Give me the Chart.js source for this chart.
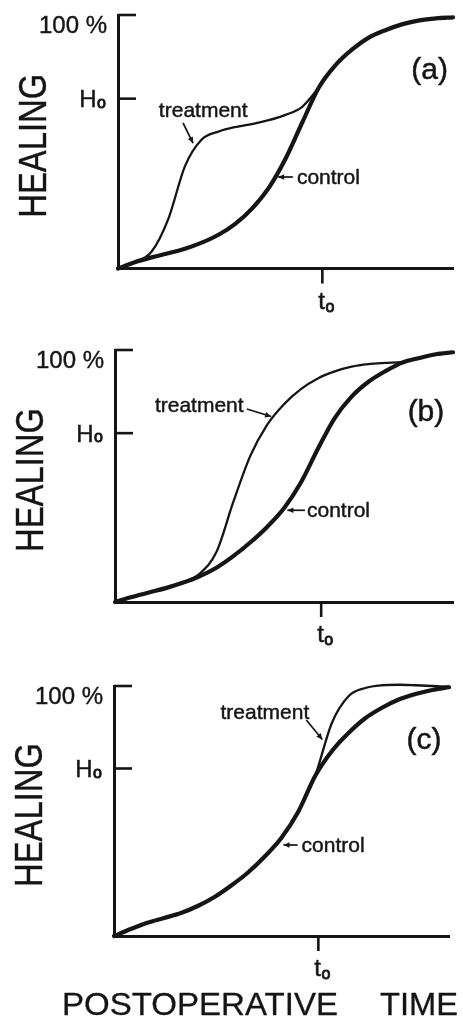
<!DOCTYPE html>
<html>
<head>
<meta charset="utf-8">
<script src="https://cdn.jsdelivr.net/npm/chart.js@4.4.0/dist/chart.umd.min.js"></script>
<style>
  html, body { margin: 0; padding: 0; background: #ffffff; }
  #wrap { position: relative; width: 463px; height: 1029px; overflow: hidden; background: #ffffff; }
  canvas { position: absolute; left: 0; }
</style>
</head>
<body>
<div id="wrap">
  <canvas id="pa" width="463" height="330" style="top:0px"></canvas>
  <canvas id="pb" width="463" height="330" style="top:330px"></canvas>
  <canvas id="pc" width="463" height="369" style="top:660px"></canvas>
</div>
<script>
// ---------------- data (postoperative time in % of axis, healing in %) ----------------
const timePoints = [0, 5, 10, 15, 20, 25, 30, 35, 40, 45, 50, 55, 60, 65, 70, 75, 80, 85, 90, 95, 100];

const controlA   = [0, 2.5, 4.4, 6.0, 7.8, 10.2, 13.3, 17.6, 23.6, 31.8, 43.3, 57.6, 71.5, 80.3, 86.5, 91.2, 94.1, 96.4, 97.9, 98.7, 99.1];
const treatmentA = [0, 2.5, 6.6, 19.5, 40.4, 50.9, 54, 55.8, 57, 58.5, 60.6, 63.8, 71.5, 80.3, 86.5, 91.2, 94.1, 96.4, 97.9, 98.7, 99.1];

const controlB   = [0, 2, 3.8, 5.5, 7.6, 10.2, 13.6, 18.2, 23.6, 29.8, 37.2, 47.4, 60.7, 73, 81.5, 87.4, 91.6, 95, 96.8, 98.3, 99.1];
const treatmentB = [0, 2, 3.8, 5.5, 7.8, 11.2, 19.8, 39.7, 57.9, 70.3, 78.5, 84.5, 88.7, 91.5, 93.4, 94.4, 94.9, 95.3, 96.8, 98.3, 99.1];

const controlC   = [0, 2.8, 5.3, 7.2, 9.2, 12, 15.6, 20.2, 25.4, 31.8, 39.3, 49.7, 63.9, 73.9, 81.2, 87.1, 91.3, 94.6, 96.8, 98.4, 99.5];
const treatmentC = [0, 2.8, 5.3, 7.2, 9.2, 12, 15.6, 20.2, 25.4, 31.8, 39.3, 49.7, 63.9, 85.1, 95.9, 99.2, 100.3, 100.5, 100.3, 100, 99.7];

const H0 = 67;          // healing level H0
const T0 = 61;          // time t0
const yTickValues = [H0, 100];
const topLabel = '100 %';
const yTitle = 'HEALING';
const xTitleWords = ['POSTOPERATIVE', 'TIME'];
const seriesNames = ['treatment', 'control'];
const panelLetters = ['(a)', '(b)', '(c)'];

// ---------------- drawing ----------------
const ink = '#151515';
const FONT = '"Liberation Sans", Arial, Helvetica, sans-serif';

function drawArrow(ctx, x1, y1, x2, y2) {
  ctx.lineWidth = 1.7;
  ctx.beginPath(); ctx.moveTo(x1, y1); ctx.lineTo(x2, y2); ctx.stroke();
  const a = Math.atan2(y2 - y1, x2 - x1), L = 6, W = 2.8;
  ctx.beginPath();
  ctx.moveTo(x2, y2);
  ctx.lineTo(x2 - L * Math.cos(a) + W * Math.sin(a), y2 - L * Math.sin(a) - W * Math.cos(a));
  ctx.lineTo(x2 - L * Math.cos(a) - W * Math.sin(a), y2 - L * Math.sin(a) + W * Math.cos(a));
  ctx.closePath(); ctx.fill();
}

// text with a light outline to match the heavier pen lettering
function inkText(ctx, text, x, y, sw) {
  ctx.fillText(text, x, y);
  ctx.lineWidth = sw || 0.6;
  ctx.strokeText(text, x, y);
}

function fitText(ctx, text, x, y, targetW, align, sw) {
  const w = ctx.measureText(text).width;
  const s = targetW / w;
  ctx.save();
  ctx.translate(x, y);
  ctx.scale(s, 1);
  ctx.textAlign = align || 'left';
  inkText(ctx, text, 0, 0, sw);
  ctx.restore();
}

const panelDecor = {
  id: 'panelDecor',
  afterDraw(chart, args, o) {
    const ctx = chart.ctx, X = chart.scales.x, Y = chart.scales.y;
    const x0 = X.getPixelForValue(0), y0 = Y.getPixelForValue(0), yTop = Y.getPixelForValue(100);
    const px = v => X.getPixelForValue(v), py = v => Y.getPixelForValue(v);
    ctx.save();
    ctx.strokeStyle = ink; ctx.fillStyle = ink; ctx.lineCap = 'butt'; ctx.lineJoin = 'round';

    // inward y ticks
    ctx.lineWidth = 2.6;
    yTickValues.forEach(v => { const p = py(v); ctx.beginPath(); ctx.moveTo(x0, p); ctx.lineTo(x0 + 18, p); ctx.stroke(); });
    // outward t0 tick
    const pt = px(T0);
    ctx.beginPath(); ctx.moveTo(pt, y0); ctx.lineTo(pt, y0 + 15); ctx.stroke();

    // y labels
    ctx.textBaseline = 'alphabetic';
    ctx.font = '24px ' + FONT; ctx.textAlign = 'right';
    inkText(ctx, topLabel, x0 - 11, yTop + 17.5, 0.4);
    const ph = py(H0);
    ctx.font = '16px ' + FONT;
    const ow = ctx.measureText('o').width;
    inkText(ctx, 'o', x0 - 12, ph + 9, 0.9);
    ctx.font = '24px ' + FONT;
    inkText(ctx, 'H', x0 - 12 - ow - 0.5, ph + 8.5, 0.4);

    // t0 label
    ctx.textAlign = 'left';
    ctx.font = '24px ' + FONT;
    inkText(ctx, 't', pt - 4, y0 + 40, 0.5);
    const tw = ctx.measureText('t').width;
    ctx.font = '16px ' + FONT;
    inkText(ctx, 'o', pt - 4 + tw + 0.5, y0 + 43, 0.9);

    // y title (rotated)
    ctx.save();
    ctx.font = '38px ' + FONT;
    const cx = x0 - 85.5, cy = (y0 + yTop) / 2 + 4;
    ctx.translate(cx, cy); ctx.rotate(-Math.PI / 2);
    fitText(ctx, yTitle, 0, 0.716 * 38 / 2, 144, 'center', 0.4);
    ctx.restore();

    // panel letter
    ctx.font = '30px ' + FONT; ctx.textAlign = 'center'; ctx.textBaseline = 'middle';
    inkText(ctx, o.letter, px(o.letterAt[0]), py(o.letterAt[1]), 0.5);

    // series annotations
    ctx.textBaseline = 'alphabetic'; ctx.textAlign = 'left';
    ctx.font = '21px ' + FONT;
    const tl = o.treat, cl = o.ctrl;
    inkText(ctx, seriesNames[0], px(tl.text[0]), py(tl.text[1]) + 7, 0.45);
    inkText(ctx, seriesNames[1], px(cl.text[0]), py(cl.text[1]) + 7, 0.45);
    drawArrow(ctx, px(tl.from[0]), py(tl.from[1]), px(tl.to[0]), py(tl.to[1]));
    drawArrow(ctx, px(cl.from[0]), py(cl.from[1]), px(cl.to[0]), py(cl.to[1]));

    // x title (only last panel)
    if (o.xTitle) {
      ctx.font = '31px ' + FONT; ctx.textBaseline = 'alphabetic';
      const base = y0 + 79;
      fitText(ctx, xTitleWords[0], 62, base, 276, 'left', 0.3);
      fitText(ctx, xTitleWords[1], 380, base, 78, 'left', 0.3);
    }
    ctx.restore();
  }
};

function pts(arr) { return timePoints.map((t, i) => ({ x: t, y: arr[i] })); }

function makePanel(id, treatment, control, pad, decor) {
  return new Chart(document.getElementById(id), {
    type: 'line',
    data: {
      datasets: [
        { label: seriesNames[1], data: pts(control), borderColor: ink, borderWidth: 4.2,
          pointRadius: 0, cubicInterpolationMode: 'monotone', fill: false, clip: false, borderCapStyle: 'round' },
        { label: seriesNames[0], data: pts(treatment), borderColor: ink, borderWidth: 2.3,
          pointRadius: 0, cubicInterpolationMode: 'monotone', fill: false, clip: false, borderCapStyle: 'round' }
      ]
    },
    options: {
      responsive: false, animation: false, events: [], devicePixelRatio: 1,
      layout: { padding: pad, autoPadding: false },
      scales: {
        x: { type: 'linear', min: 0, max: 100, afterFit(s) { s.height = 0; },
             ticks: { display: false }, grid: { display: false, drawTicks: false },
             border: { display: true, color: ink, width: 3 } },
        y: { type: 'linear', min: 0, max: 100, afterFit(s) { s.width = 0; },
             ticks: { display: false }, grid: { display: false, drawTicks: false },
             border: { display: true, color: ink, width: 3 } }
      },
      plugins: { legend: { display: false }, tooltip: { enabled: false }, panelDecor: decor }
    },
    plugins: [panelDecor]
  });
}

makePanel('pa', treatmentA, controlA, { left: 118, right: 10, top: 15, bottom: 61.5 }, {
  letter: panelLetters[0], letterAt: [93, 78],
  treat: { text: [12.2, 62.5], from: [19.4, 57.4], to: [22.4, 49.5] },
  ctrl:  { text: [53.4, 36.1], from: [52.2, 36.1], to: [47.8, 36.1] }
});
makePanel('pb', treatmentB, controlB, { left: 115, right: 10, top: 20, bottom: 58 }, {
  letter: panelLetters[1], letterAt: [92, 75],
  treat: { text: [11.8, 78.1], from: [39, 76.6], to: [46.2, 73.6] },
  ctrl:  { text: [56.8, 36.4], from: [56.2, 36.4], to: [51, 36.4] }
});
makePanel('pc', treatmentC, controlC, { left: 114, right: 14, top: 26, bottom: 93 }, {
  letter: panelLetters[2], letterAt: [92.5, 78],
  treat: { text: [31.8, 89.6], from: [57.4, 86.4], to: [62.2, 78.6] },
  ctrl:  { text: [56, 36.4], from: [54.8, 36.4], to: [50.6, 36.4] },
  xTitle: true
});
</script>
</body>
</html>
